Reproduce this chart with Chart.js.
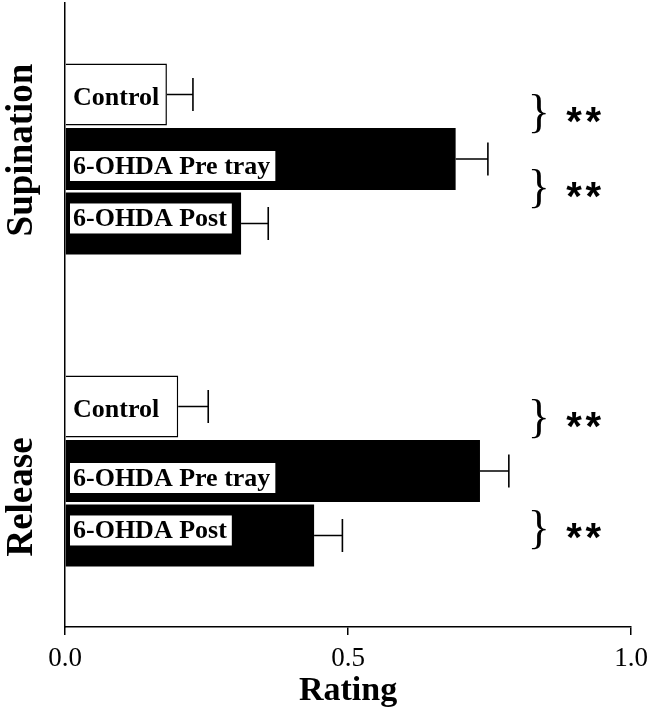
<!DOCTYPE html>
<html>
<head>
<meta charset="utf-8">
<script src="https://cdn.jsdelivr.net/npm/chart.js@4.4.1/dist/chart.umd.min.js"></script>
<style>
    html, body { margin: 0; padding: 0; background: #fff; }
    canvas { display: block; }
</style>
</head>
<body>
<canvas id="rating-chart" width="648" height="720"></canvas>
<script>
const categories = ["Supination", "Release"];
const groupNames = ["Control", "6-OHDA Pre tray", "6-OHDA Post"];
const controlMean = [0.18, 0.2];
const preTrayMean = [0.69, 0.733];
const postMean = [0.311, 0.44];
const controlSem = [0.046, 0.053];
const preTraySem = [0.057, 0.051];
const postSem = [0.048, 0.05];
const xTickValues = [0, 0.5, 1.0];
// significance marks: [category index, upper bar index] -> between bar i and i+1
const sigPairs = [[0, 0], [0, 1], [1, 0], [1, 1]];
const sigStars = 2;

const serif = "'Liberation Serif', 'Times New Roman', serif";
const semByDataset = [controlSem, preTraySem, postSem];

// nudges to follow the hand-placed marks of the original figure
const sigNudge = [-13, -2, -20, 27];
const catLabelNudge = [-9, 26];
const barLabelNudge = [3, 7, -5];

const overlayPlugin = {
    id: "overlay",
    afterDatasetsDraw(chart) {
        const ctx = chart.ctx;
        const x = chart.scales.x;
        const y = chart.scales.y;
        ctx.save();

        // error bars
        ctx.strokeStyle = "#000";
        ctx.lineWidth = 1.6;
        chart.data.datasets.forEach((ds, di) => {
            const meta = chart.getDatasetMeta(di);
            meta.data.forEach((bar, i) => {
                const end = x.getPixelForValue(ds.data[i] + semByDataset[di][i]);
                ctx.beginPath();
                ctx.moveTo(bar.x, bar.y);
                ctx.lineTo(end, bar.y);
                ctx.moveTo(end, bar.y - 16.5);
                ctx.lineTo(end, bar.y + 16.5);
                ctx.stroke();
            });
        });

        // labels inside bars
        ctx.font = "bold 26px " + serif;
        ctx.textBaseline = "middle";
        chart.data.datasets.forEach((ds, di) => {
            const meta = chart.getDatasetMeta(di);
            meta.data.forEach((bar) => {
                const text = groupNames[di];
                const w = ctx.measureText(text).width;
                const tx = x.getPixelForValue(0) + 8;
                const ty = bar.y + barLabelNudge[di];
                if (di > 0) {
                    ctx.fillStyle = "#fff";
                    ctx.fillRect(tx - 3, ty - 15, w + 8, 30);
                }
                ctx.fillStyle = "#000";
                ctx.fillText(text, tx, ty + 1);
            });
        });

        // category labels on the left
        ctx.font = "bold 37px " + serif;
        ctx.textAlign = "center";
        categories.forEach((c, i) => {
            const cy = y.getPixelForValue(i) + catLabelNudge[i];
            ctx.save();
            ctx.translate(22, cy);
            ctx.rotate(-Math.PI / 2);
            ctx.fillText(c, 0, 0);
            ctx.restore();
        });

        // significance braces
        sigPairs.forEach((p, k) => {
            const a = chart.getDatasetMeta(p[1]).data[p[0]];
            const b = chart.getDatasetMeta(p[1] + 1).data[p[0]];
            const sy = (a.y + b.y) / 2 + sigNudge[k];
            ctx.font = "46px " + serif;
            ctx.textAlign = "center";
            ctx.fillText("}", x.getPixelForValue(0.837), sy + 1);
            ctx.font = "bold 40px 'Liberation Sans', Arial, sans-serif";
            for (let s = 0; s < sigStars; s++) {
                ctx.fillText("*", x.getPixelForValue(0.899 + s * 0.034), sy + 10);
            }
        });

        ctx.restore();
    },
};

new Chart(document.getElementById("rating-chart"), {
    type: "bar",
    data: {
        labels: categories,
        datasets: [
            {
                label: groupNames[0],
                data: controlMean,
                backgroundColor: "#fff",
                borderColor: "#000",
                borderWidth: 1.5,
            },
            {
                label: groupNames[1],
                data: preTrayMean,
                backgroundColor: "#000",
                borderWidth: 0,
            },
            {
                label: groupNames[2],
                data: postMean,
                backgroundColor: "#000",
                borderWidth: 0,
            },
        ],
    },
    options: {
        indexAxis: "y",
        responsive: false,
        animation: false,
        layout: { padding: { top: 3, right: 0, left: 0, bottom: 0 } },
        datasets: {
            bar: { categoryPercentage: 0.62, barPercentage: 0.96 },
        },
        plugins: {
            legend: { display: false },
            tooltip: { enabled: false },
        },
        scales: {
            x: {
                min: 0,
                max: 1,
                afterBuildTicks: (axis) => {
                    axis.ticks = xTickValues.map((v) => ({ value: v }));
                },
                afterFit: (axis) => {
                    axis.height = 93;
                },
                ticks: {
                    color: "#000",
                    font: { family: serif, size: 27, lineHeight: 1.8 },
                    padding: 0,
                    callback: (v) => Number(v).toFixed(1),
                },
                grid: {
                    drawOnChartArea: false,
                    drawTicks: true,
                    tickLength: 8,
                    color: "#000",
                    lineWidth: 1.5,
                },
                border: { display: true, color: "#000", width: 1.5 },
                title: {
                    display: true,
                    text: "Rating",
                    color: "#000",
                    font: { family: serif, size: 34, weight: "bold" },
                    padding: { top: 0, bottom: 8 },
                },
            },
            y: {
                afterFit: (axis) => {
                    axis.width = 65;
                },
                ticks: { display: false },
                grid: { display: false },
                border: { display: true, color: "#000", width: 1.5 },
            },
        },
    },
    plugins: [overlayPlugin],
});
</script>
</body>
</html>
